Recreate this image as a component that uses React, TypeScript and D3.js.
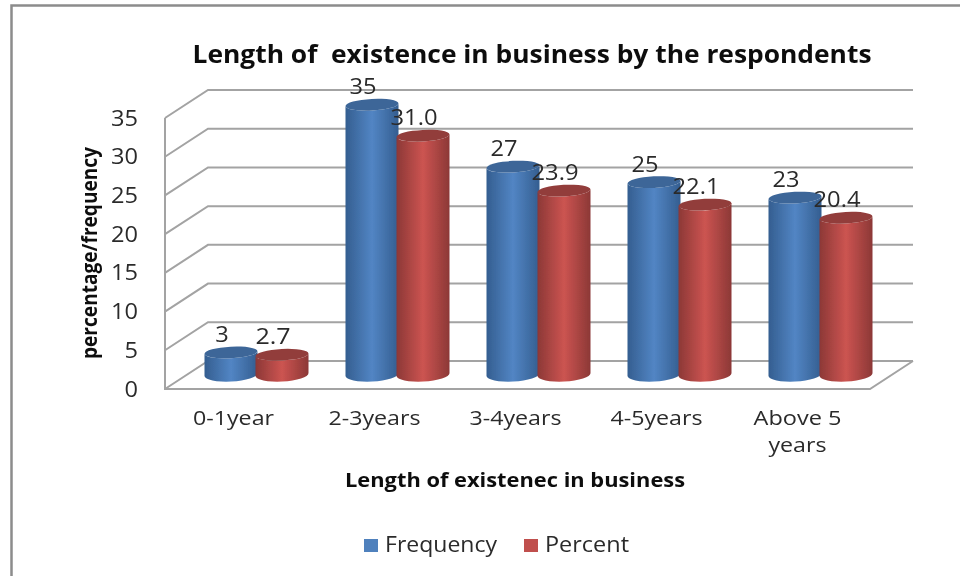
import React, { useRef, useEffect } from 'react';
import * as d3 from 'd3';

const categories = ['0-1year', '2-3years', '3-4years', '4-5years', 'Above 5 years'];
const frequency = [3, 35, 27, 25, 23];
const percent = [2.7, 31.0, 23.9, 22.1, 20.4];
const percentLabels = ['2.7', '31.0', '23.9', '22.1', '20.4'];
const yTicks = [0, 5, 10, 15, 20, 25, 30, 35];
const seriesNames = ['Frequency', 'Percent'];

const FONT = '"Open Sans", "DejaVu Sans", sans-serif';
const GRID = '#a3a3a3';
const TEXT = '#2b2b2b';

// wall depth of the fake 3d box
const DX = 43, DY = -28;

const App: React.FC = () => {
    const svgRef = useRef<SVGSVGElement | null>(null);

    useEffect(() => {
        if (!svgRef.current) return;
        const svg = d3.select(svgRef.current);
        svg.selectAll('*').remove();

        const y = d3.scaleLinear().domain([0, 35]).range([389, 118]);
        const x = d3.scaleBand<string>().domain(categories).range([165, 870]);
        const inner = d3.scaleBand<string>().domain(seriesNames).range([0, 102]);

        const defs = svg.append('defs');
        const grad = (id: string, edge: string, mid: string) => {
            const g = defs.append('linearGradient').attr('id', id);
            g.append('stop').attr('offset', '0%').attr('stop-color', edge);
            g.append('stop').attr('offset', '50%').attr('stop-color', mid);
            g.append('stop').attr('offset', '100%').attr('stop-color', edge);
        };
        grad('blue', '#345e90', '#5285c4');
        grad('red', '#8c3836', '#cc5451');
        const soft = defs.append('filter').attr('id', 'soft');
        soft.append('feGaussianBlur').attr('stdDeviation', 0.35);

        // frame, only top and left edges are in the picture
        svg.append('path')
            .attr('d', 'M11.5,576V5.5H960')
            .attr('fill', 'none').attr('stroke', '#8c8c8c').attr('stroke-width', 2.5);

        const plot = svg.append('g').attr('filter', 'url(#soft)');

        const text = (t: string, px: number, py: number, size: number, len: number, opts: any = {}) =>
            plot.append('text')
                .attr('x', px).attr('y', py)
                .attr('text-anchor', opts.anchor || 'middle')
                .attr('font-family', FONT)
                .attr('font-size', size)
                .attr('font-weight', opts.bold ? 700 : 400)
                .attr('fill', opts.fill || TEXT)
                .attr('textLength', len)
                .attr('lengthAdjust', 'spacingAndGlyphs')
                .attr('transform', opts.transform || null)
                .text(t);

        // walls and gridlines
        const wall = plot.append('g').attr('fill', 'none').attr('stroke', GRID).attr('stroke-width', 2);
        wall.selectAll('path.grid')
            .data(yTicks)
            .join('path')
            .attr('class', 'grid')
            .attr('d', d => `M165,${y(d)}L${165 + DX},${y(d) + DY}H${870 + DX}`);
        wall.append('path')
            .attr('d', `M165,${y(35)}V${y(0)}H870L${870 + DX},${y(0) + DY}`);

        // cylinders
        const rx = 26.5, ryTop = 5.8, ryBottom = 7;
        const tilt = -3;
        const base = y(0) - 14.5;
        const topBase = y(0) - 13.3;
        const cylinder = (i: number, s: number, v: number) => {
            const cx = (x(categories[i]) as number) + 21 + 19.5 + (inner(seriesNames[s]) as number) + inner.bandwidth() / 2;
            const top = topBase - (y(0) - y(v));
            const lift = rx * Math.sin(-tilt * Math.PI / 180);
            const id = s === 0 ? 'blue' : 'red';
            const g = plot.append('g');
            g.append('path')
                .attr('d', `M${cx - rx},${top + lift}V${base + lift}A${rx},${ryBottom} ${tilt} 0 0 ${cx + rx},${base - lift}V${top - lift}A${rx},${ryTop} ${tilt} 0 1 ${cx - rx},${top + lift}Z`)
                .attr('fill', `url(#${id})`);
            g.append('ellipse')
                .attr('cx', cx).attr('cy', top)
                .attr('rx', rx).attr('ry', ryTop)
                .attr('transform', `rotate(${tilt} ${cx} ${top})`)
                .attr('fill', s === 0 ? '#3c6698' : '#923d3b');
            return { cx, top };
        };
        const tops = categories.map((_, i) => [cylinder(i, 0, frequency[i]), cylinder(i, 1, percent[i])]);

        // data labels
        tops.forEach((t, i) => {
            const f = String(frequency[i]);
            text(f, t[0].cx - 9, t[0].top - 10.5, 21, f.length * 13.5);
            text(percentLabels[i], t[1].cx - 9, t[1].top - 10.5, 21, 47 * percentLabels[i].length / 4);
        });

        // y axis labels
        yTicks.forEach(d => {
            const s = String(d);
            text(s, 138, y(d) + 7.5, 21, s.length * 13.5, { anchor: 'end' });
        });
        text('percentage/frequency', 0, 0, 22, 212, { bold: true, fill: '#111', transform: 'translate(97,253) rotate(-90)' });

        // x axis labels
        categories.forEach(c => {
            const cx = (x(c) as number) + x.bandwidth() / 2 - 2;
            if (c === 'Above 5 years') {
                text('Above 5', cx, 425, 20, 88);
                text('years', cx, 452, 20, 58);
            } else {
                text(c, cx, 425, 20, c.length === 7 ? 81 : 92);
            }
        });

        text('Length of  existence in business by the respondents', 532, 63, 25, 679, { bold: true, fill: '#111' }).style('white-space', 'pre');
        text('Length of existenec in business', 515, 487, 20, 340, { bold: true, fill: '#111' });

        // legend
        const swatchX = d3.scaleOrdinal<string, number>().domain(seriesNames).range([364, 524]);
        seriesNames.forEach((name, i) => {
            const sx = swatchX(name);
            plot.append('rect').attr('x', sx).attr('y', 539).attr('width', 14).attr('height', 13)
                .attr('fill', i === 0 ? '#4f81bd' : '#c0504d');
            text(name, sx + 21, 552, 21, i === 0 ? 112 : 84, { anchor: 'start' });
        });
    }, []);

    return <svg ref={svgRef} width={960} height={576} style={{ position: 'absolute', left: 0, top: 0, background: '#fff' }}></svg>;
};

export default App;
